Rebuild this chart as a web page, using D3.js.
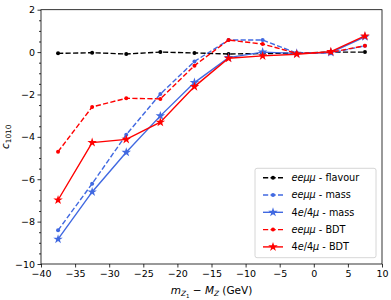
<!DOCTYPE html>
<html>
<head>
<meta charset="utf-8">
<script src="https://cdn.jsdelivr.net/npm/d3@7"></script>
<style>
  body { margin: 0; background: #fff; }
  text { font-family: "DejaVu Sans", sans-serif; }
</style>
</head>
<body>
<div id="chart"></div>
<script>
var xVals = [-37.5, -32.5, -27.5, -22.5, -17.5, -12.5, -7.5, -2.5, 2.5, 7.5];
var eeFlavour = [-0.06, -0.03, -0.09, 0.0, -0.04, -0.09, -0.07, -0.05, 0.0, 0.0];
var eeMass = [-8.41, -6.21, -3.9, -1.98, -0.44, 0.57, 0.57, -0.05, -0.05, 0.30];
var fourMass = [-8.83, -6.6, -4.73, -3.01, -1.44, -0.26, 0.0, -0.06, -0.02, 0.72];
var eeBDT = [-4.70, -2.59, -2.18, -2.21, -0.64, 0.57, 0.38, -0.06, -0.01, 0.30];
var fourBDT = [-6.98, -4.27, -4.12, -3.31, -1.63, -0.29, -0.18, -0.10, 0.02, 0.76];
var xTicks = [-40, -35, -30, -25, -20, -15, -10, -5, 0, 5, 10];
var yTicks = [-10, -8, -6, -4, -2, 0, 2];

var series = [
  { vals: eeFlavour, color: "#000000", dash: true, marker: "dot", label: [["ee\u03bc\u03bc", true], [" - flavour", false]] },
  { vals: eeMass, color: "#4169e1", dash: true, marker: "dot", label: [["ee\u03bc\u03bc", true], [" - mass", false]] },
  { vals: fourMass, color: "#4169e1", dash: false, marker: "star", label: [["4", false], ["e", true], ["/4", false], ["\u03bc", true], [" - mass", false]] },
  { vals: eeBDT, color: "#ff0000", dash: true, marker: "dot", label: [["ee\u03bc\u03bc", true], [" - BDT", false]] },
  { vals: fourBDT, color: "#ff0000", dash: false, marker: "star", label: [["4", false], ["e", true], ["/4", false], ["\u03bc", true], [" - BDT", false]] }
];

var W = 391, H = 300;
var m = { left: 41, right: 9, top: 9.7, bottom: 36 };

var svg = d3.select("#chart").append("svg")
    .attr("width", W)
    .attr("height", H);

var x = d3.scaleLinear().domain([-40, 10]).range([m.left, W - m.right]);
var y = d3.scaleLinear().domain([-10, 2]).range([H - m.bottom, m.top]);

function minus(d){ return d < 0 ? "\u2212" + Math.abs(d) : d; }

// axes
svg.append("g")
    .attr("transform", "translate(0," + (H - m.bottom) + ")")
    .call(d3.axisBottom(x).tickValues(xTicks).tickSizeInner(3.5).tickSizeOuter(0).tickPadding(2.5)
      .tickFormat(minus));

// minor y ticks every 0.5
svg.append("g")
    .attr("transform", "translate(" + m.left + ",0)")
    .call(d3.axisLeft(y).tickValues(d3.range(-10, 2.01, 0.5).filter(function(d){ return d % 2 !== 0; }))
      .tickSize(2).tickFormat(""));

svg.append("g")
    .attr("transform", "translate(" + m.left + ",0)")
    .call(d3.axisLeft(y).tickValues(yTicks).tickSizeInner(3.5).tickSizeOuter(0).tickPadding(2.5)
      .tickFormat(minus));

svg.selectAll(".domain").remove();
svg.selectAll(".tick line").attr("stroke", "#000").attr("stroke-width", 0.8);
svg.selectAll(".tick text").attr("font-size", 9.5).attr("fill", "#000")
    .style("font-family", "DejaVu Sans");

svg.append("rect")
    .attr("x", m.left).attr("y", m.top)
    .attr("width", W - m.left - m.right)
    .attr("height", H - m.top - m.bottom)
    .attr("fill", "none").attr("stroke", "#000").attr("stroke-width", 0.8);

// lines
var line = d3.line()
    .x(function(d, i){ return x(xVals[i]); })
    .y(function(d){ return y(d); });

var star = d3.symbol().type(d3.symbolStar).size(28);

series.forEach(function(s){
  var g = svg.append("g");
  g.append("path")
      .datum(s.vals)
      .attr("d", line)
      .attr("fill", "none")
      .attr("stroke", s.color)
      .attr("stroke-width", 1.4)
      .attr("stroke-dasharray", s.dash ? "5.2,2.3" : null);
  if (s.marker === "dot") {
    g.selectAll("circle").data(s.vals).enter().append("circle")
        .attr("cx", function(d, i){ return x(xVals[i]); })
        .attr("cy", function(d){ return y(d); })
        .attr("r", 2)
        .attr("fill", s.color);
  } else {
    g.selectAll("path.mk").data(s.vals).enter().append("path")
        .attr("class", "mk")
        .attr("d", star)
        .attr("transform", function(d, i){ return "translate(" + x(xVals[i]) + "," + y(d) + ")"; })
        .attr("fill", s.color);
  }
});

// legend
var lg = svg.append("g");
lg.append("rect")
    .attr("x", 255).attr("y", 168.3)
    .attr("width", 121).attr("height", 89.4)
    .attr("rx", 2)
    .attr("fill", "#fff").attr("fill-opacity", 0.8)
    .attr("stroke", "#cccccc").attr("stroke-width", 0.8);

series.forEach(function(s, i){
  var ly = 177.7 + i * 17.3;
  lg.append("line")
      .attr("x1", 263).attr("x2", 283)
      .attr("y1", ly).attr("y2", ly)
      .attr("stroke", s.color).attr("stroke-width", 1.4)
      .attr("stroke-dasharray", s.dash ? "5.2,2.3" : null);
  if (s.marker === "dot") {
    lg.append("circle").attr("cx", 273).attr("cy", ly).attr("r", 2).attr("fill", s.color);
  } else {
    lg.append("path").attr("d", star).attr("transform", "translate(273," + ly + ")").attr("fill", s.color);
  }
  var t = lg.append("text")
      .attr("x", 291.5).attr("y", ly + 3.4)
      .attr("font-size", 9.7).attr("fill", "#000");
  s.label.forEach(function(p){
    t.append("tspan").text(p[0]).attr("font-style", p[1] ? "italic" : null);
  });
});

// x label
var xl = svg.append("text")
    .attr("x", (m.left + W - m.right) / 2)
    .attr("y", 294)
    .attr("text-anchor", "middle")
    .attr("font-size", 10.5).attr("fill", "#000");
xl.append("tspan").text("m").attr("font-style", "italic");
xl.append("tspan").text("Z").attr("font-style", "italic").attr("font-size", 7.3).attr("dy", 2.2);
xl.append("tspan").text("1").attr("font-size", 5.4).attr("dy", 1.6);
xl.append("tspan").text(" \u2212 ").attr("dy", -3.8);
xl.append("tspan").text("M").attr("font-style", "italic");
xl.append("tspan").text("Z").attr("font-style", "italic").attr("font-size", 7.3).attr("dy", 2.2);
xl.append("tspan").text(" (GeV)").attr("dy", -2.2);

// y label
var yl = svg.append("text")
    .attr("transform", "translate(9," + ((m.top + H - m.bottom) / 2) + ") rotate(-90)")
    .attr("text-anchor", "middle")
    .attr("font-size", 10.5).attr("fill", "#000");
yl.append("tspan").text("c").attr("font-style", "italic");
yl.append("tspan").text("1010").attr("font-size", 7.3).attr("dy", 2.2);
</script>
</body>
</html>
